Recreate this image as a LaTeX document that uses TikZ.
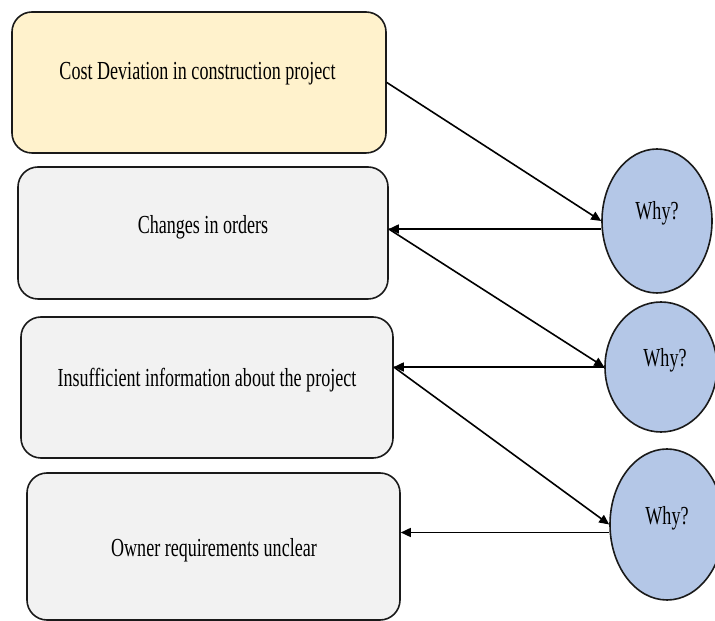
\documentclass[tikz,border=0pt]{standalone}
\usepackage{fontspec}
\newfontfamily\tnr[FakeStretch=0.695]{Liberation Serif}
\usetikzlibrary{shapes.geometric,arrows.meta}
\definecolor{boxyellow}{HTML}{FFF2CC}
\definecolor{boxgray}{HTML}{F2F2F2}
\definecolor{whyblue}{HTML}{B4C7E7}
\definecolor{edge}{HTML}{1A1A1A}
\tikzset{
  box/.style={draw=edge, line width=1.6pt, rounded corners=20pt, inner sep=0pt},
  why/.style={draw=edge, line width=1.6pt, ellipse, fill=whyblue, inner sep=0pt},
  lbl/.style={font=\tnr\fontsize{26}{28}\selectfont, anchor=base, inner sep=0pt},
  conn/.style={draw=black, line width=1.6pt, -{Triangle[length=10pt,width=9pt]}}
}
\begin{document}
\begin{tikzpicture}[x=1pt,y=1pt]
\useasboundingbox (0,0) rectangle (715,621);
% boxes
\node[box, fill=boxyellow, minimum width=374pt, minimum height=141pt] (b1) at (199,538.5) {};
\node[box, fill=boxgray, minimum width=370pt, minimum height=132pt] (b2) at (203,388) {};
\node[box, fill=boxgray, minimum width=372pt, minimum height=141pt] (b3) at (207,233.5) {};
\node[box, fill=boxgray, minimum width=373pt, minimum height=147pt] (b4) at (213.5,74.5) {};
% ellipses
\node[why, minimum width=110pt, minimum height=144pt] (c1) at (657,400) {};
\node[why, minimum width=112pt, minimum height=130pt] (c2) at (661,254) {};
\node[why, minimum width=114pt, minimum height=151pt] (c3) at (667,96.5) {};
% texts
\node[lbl] (t1) at (197.5,541) {Cost Deviation in construction project};
\node[lbl] (t2) at (203,387) {Changes in orders};
\node[lbl] (t3) at (207,234) {Insufficient information about the project};
\node[lbl] (t4) at (214,64) {Owner requirements unclear};
\node[lbl] (w1) at (657,401) {Why?};
\node[lbl] (w2) at (665,254) {Why?};
\node[lbl] (w3) at (667,96) {Why?};
% connector helper points
\coordinate (s2) at ([yshift=-8pt]c1.west);
\coordinate (e2) at (s2 -| b2.east);
\coordinate (e4) at (c2.west -| b3.east);
\coordinate (s6) at ([yshift=-8pt]c3.west);
\coordinate (e6) at (s6 -| b4.east);
% connectors
\draw[conn] (b1.east) -- (c1.west);
\draw[conn] (s2) -- (e2);
\draw[conn] (e2) -- (c2.west);
\draw[conn] (c2.west) -- (e4);
\draw[conn] (e4) -- (c3.west);
\draw[conn] (s6) -- (e6);
\end{tikzpicture}
\end{document}
